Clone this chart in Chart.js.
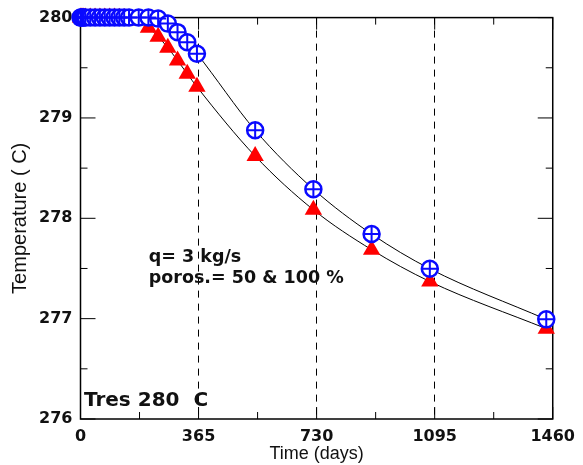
<!DOCTYPE html>
<html>
<head>
<meta charset="utf-8">
<script src="https://cdn.jsdelivr.net/npm/chart.js@4.4.0/dist/chart.umd.min.js"></script>
<style>
	html, body { margin: 0; padding: 0; background: #fff; }
</style>
</head>
<body>
<canvas id="temp-chartcanvas" width="583" height="465"></canvas>
<script>
"use strict";

// output times (days)
var days = [0, 2, 5, 10, 15, 30, 45, 60, 75, 90, 105, 120, 135, 150, 180, 210, 240, 270, 300, 330, 360, 540, 720, 900, 1080, 1440];
// temperature (C), poros. 100 % - blue circles
var tempPoros100 = [280, 280, 280, 280, 280, 280, 280, 280, 280, 280, 280, 280, 280, 280, 280, 280, 279.99, 279.94, 279.855, 279.755, 279.64, 278.877, 278.29, 277.843, 277.497, 276.993];
// temperature (C), poros. 50 % - red triangles
var tempPoros50 = [280, 280, 280, 280, 280, 280, 280, 280, 280, 280, 280, 279.998, 279.995, 279.99, 279.97, 279.9, 279.81, 279.7, 279.573, 279.44, 279.31, 278.62, 278.085, 277.687, 277.37, 276.9];

var xTicks = [0, 365, 730, 1095, 1460];
var yTicks = [276, 277, 278, 279, 280];

var noteLines = ["q= 3 kg/s", "poros.= 50 & 100 %"];
var resText = "Tres 280  C";

var blue = "#0a0aff";
var red = "#ff0000";

// pair up x/y for the scatter datasets
function toPoints(ys) {
	return days.map(function(d, i) {
		return { x : d, y : ys[i] };
	});
}
var pts100 = toPoints(tempPoros100);
var pts50 = toPoints(tempPoros50);

// box round the plot with inward ticks, like the original plot
var frameTicks = {
	id : "frameTicks",
	beforeDatasetsDraw : function(chart) {
		var c = chart.ctx;
		var a = chart.chartArea;
		var xs = chart.scales.x;
		var ys = chart.scales.y;
		var i, p, len;
		c.save();
		c.strokeStyle = "#000";
		c.lineWidth = 1;
		c.beginPath();
		// x: every half year, longer at years
		var xStep = (xTicks[1] - xTicks[0]) / 2;
		for (i = 0; i <= (xTicks.length - 1) * 2; i++) {
			p = xs.getPixelForValue(xTicks[0] + i * xStep);
			len = (i % 2 === 0) ? 12 : 7;
			c.moveTo(p, a.bottom);
			c.lineTo(p, a.bottom - len);
			c.moveTo(p, a.top);
			c.lineTo(p, a.top + len);
		}
		// y: every half degree, longer at whole degrees
		var yStep = (yTicks[1] - yTicks[0]) / 2;
		for (i = 0; i <= (yTicks.length - 1) * 2; i++) {
			p = ys.getPixelForValue(yTicks[0] + i * yStep);
			len = (i % 2 === 0) ? 15 : 7;
			c.moveTo(a.left, p);
			c.lineTo(a.left + len, p);
			c.moveTo(a.right, p);
			c.lineTo(a.right - len, p);
		}
		c.stroke();
		c.lineWidth = 1.5;
		c.strokeRect(a.left, a.top, a.right - a.left, a.bottom - a.top);
		c.restore();
	},
	afterDatasetsDraw : function(chart) {
		var c = chart.ctx;
		var a = chart.chartArea;
		var xs = chart.scales.x;
		var ys = chart.scales.y;
		c.save();
		c.fillStyle = "#111";
		c.textBaseline = "alphabetic";
		c.textAlign = "left";
		c.font = "bold 17.5px 'DejaVu Sans'";
		var nx = xs.getPixelForValue(211);
		var ny = ys.getPixelForValue(277.561);
		c.fillText(noteLines[0], nx, ny);
		c.fillText(noteLines[1], nx, ny + 20.6);
		c.font = "bold 20px 'DejaVu Sans'";
		c.fillText(resText, a.left + 3.5, a.bottom - 13);
		c.restore();
	}
};

var tempCtx = document.getElementById("temp-chartcanvas");

var tempData = {
	datasets : [
		{
			label : "poros. 100 % (cross)",
			data : pts100,
			showLine : false,
			pointStyle : "cross",
			pointRadius : 8,
			pointBorderColor : blue,
			pointBorderWidth : 2,
			clip : false
		},
		{
			label : "poros. 100 %",
			data : pts100,
			showLine : false,
			pointStyle : "circle",
			pointRadius : 8,
			pointBackgroundColor : "#fff",
			pointBorderColor : blue,
			pointBorderWidth : 2.5,
			clip : false
		},
		{
			label : "poros. 50 %",
			data : pts50,
			showLine : false,
			pointStyle : "triangle",
			pointRadius : 10,
			pointBackgroundColor : red,
			pointBorderColor : red,
			pointBorderWidth : 0,
			clip : false
		},
		{
			label : "line 100 %",
			data : pts100,
			showLine : true,
			borderColor : "#000",
			borderWidth : 1,
			pointRadius : 0,
			fill : false,
			cubicInterpolationMode : "monotone",
			clip : false
		},
		{
			label : "line 50 %",
			data : pts50,
			showLine : true,
			borderColor : "#000",
			borderWidth : 1,
			pointRadius : 0,
			fill : false,
			cubicInterpolationMode : "monotone",
			clip : false
		}
	]
};

var tempOptions = {
	responsive : false,
	animation : false,
	events : [],
	layout : {
		padding : { left : 0, right : 30, top : 16, bottom : 0 }
	},
	plugins : {
		legend : { display : false },
		tooltip : { enabled : false }
	},
	scales : {
		x : {
			type : "linear",
			min : 0,
			max : 1460,
			afterBuildTicks : function(scale) {
				scale.ticks = xTicks.map(function(v) { return { value : v }; });
			},
			afterFit : function(scale) {
				scale.height = 46;
			},
			grid : {
				color : function(ctx) {
					var v = ctx.tick ? ctx.tick.value : 0;
					return (v > xTicks[0] && v < xTicks[xTicks.length - 1]) ? "#000" : "rgba(0,0,0,0)";
				},
				lineWidth : 1,
				drawTicks : false
			},
			border : { display : false, dash : [7, 6] },
			ticks : {
				padding : 8,
				color : "#111",
				maxRotation : 0,
				autoSkip : false,
				font : { family : "DejaVu Sans", weight : "bold", size : 16 },
				callback : function(v) { return String(v); }
			},
			title : {
				display : true,
				text : "Time (days)",
				color : "#111",
				font : { family : "Liberation Sans", size : 18 },
				padding : { top : 0, bottom : 0 }
			}
		},
		y : {
			min : 276,
			max : 280,
			afterBuildTicks : function(scale) {
				scale.ticks = yTicks.map(function(v) { return { value : v }; });
			},
			afterFit : function(scale) {
				scale.width = 80.5;
			},
			grid : { display : false, drawTicks : false },
			border : { display : false },
			ticks : {
				padding : 8,
				color : "#111",
				autoSkip : false,
				font : { family : "DejaVu Sans", weight : "bold", size : 16 },
				callback : function(v) { return String(v); }
			},
			title : {
				display : true,
				text : "Temperature ( C)",
				color : "#111",
				font : { family : "Liberation Sans", size : 20 },
				padding : { top : 8, bottom : 0 }
			}
		}
	}
};

// create chart
var tempChart = new Chart(tempCtx, {
	type : "scatter",
	data : tempData,
	options : tempOptions,
	plugins : [frameTicks]
});
</script>
</body>
</html>
